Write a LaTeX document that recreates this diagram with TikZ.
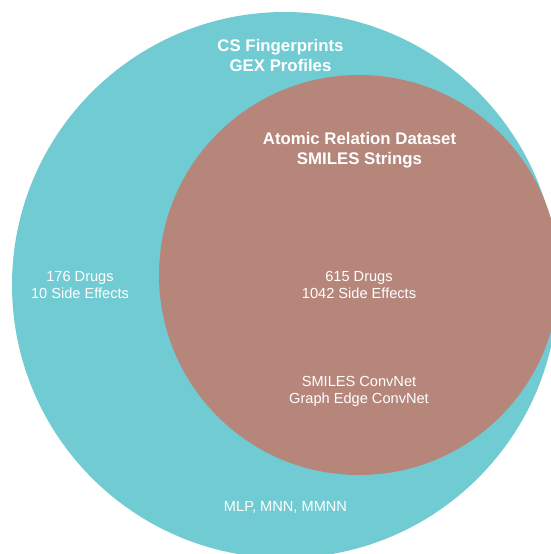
\documentclass[tikz,border=0pt]{standalone}
\usepackage{fontspec}
\setmainfont{Liberation Sans}
\definecolor{outerteal}{HTML}{71CBD3}
\definecolor{innerrose}{HTML}{B6867B}
\begin{document}
\begin{tikzpicture}[x=1pt,y=-1pt,
  title/.style={text=white,align=center,font=\fontsize{16.8}{20}\selectfont\bfseries,inner sep=0pt},
  info/.style={text=white,align=center,font=\fontsize{14.6}{17}\selectfont,inner sep=0pt}]
  \useasboundingbox (0,0) rectangle (551,554);
  \begin{scope}
    \clip (0,0) rectangle (551,554);
    \fill[outerteal] (285,285) circle (273);
    \fill[innerrose] (359,275) circle (200);
  \end{scope}
  \node[title] (outerhead) at (280.5,55) {CS Fingerprints\\GEX Profiles};
  \node[title] (innerhead) at (359.5,150) {Atomic Relation Dataset\\SMILES Strings};
  \node[info] (outercount) at (80,285) {176 Drugs\\10 Side Effects};
  \node[info] (innercount) at (359,285) {615 Drugs\\1042 Side Effects};
  \node[info] (innermodels) at (359,391.5) {SMILES ConvNet\\Graph Edge ConvNet};
  \node[info] (outermodels) at (285.5,507) {MLP, MNN, MMNN};
\end{tikzpicture}
\end{document}
